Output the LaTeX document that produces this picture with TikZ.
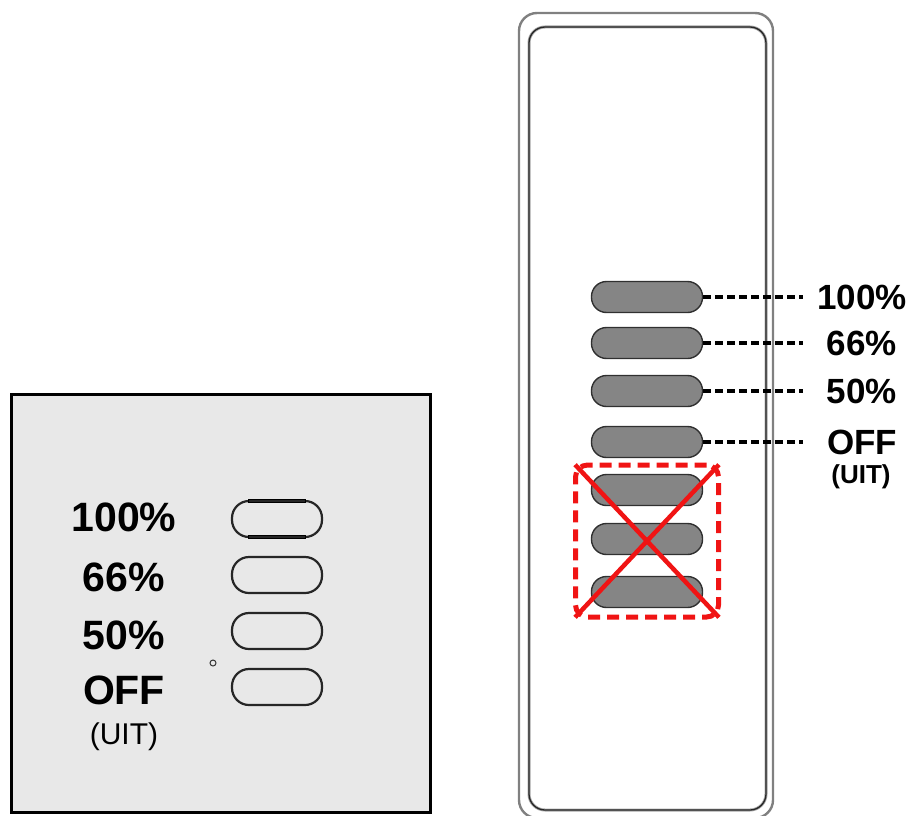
\documentclass[tikz,border=0pt]{standalone}
\usepackage{fontspec}
\setmainfont{Liberation Sans}
\usetikzlibrary{positioning}
\definecolor{plategrey}{HTML}{E8E8E8}
\definecolor{keygrey}{HTML}{858585}
\definecolor{keyedge}{HTML}{303030}
\definecolor{crossred}{HTML}{F01414}
\definecolor{rimgrey}{HTML}{808080}

\begin{document}
\begin{tikzpicture}[
  x=1pt, y=-1pt,
  plainkey/.style={draw=black!85, line width=2.2pt, rounded corners=17pt,
                   minimum width=90pt, minimum height=36pt, inner sep=0pt},
  greykey/.style={draw=keyedge, fill=keygrey, line width=1.4pt, rounded corners=15pt,
                  minimum width=111pt, minimum height=31pt, inner sep=0pt},
  biglbl/.style={font=\fontsize{41}{41}\selectfont\bfseries, inner sep=0pt},
  lbl/.style={font=\fontsize{35}{35}\selectfont\bfseries, inner sep=0pt},
  leader/.style={dash pattern=on 8pt off 4pt, line width=3.2pt},
]
\useasboundingbox (0,0) rectangle (915,816);

% ---------------- old plate (left) ----------------------------------
\draw[fill=plategrey, line width=3pt] (11,394) rectangle (430,812);

\foreach \n/\y/\t in {1/517/100\%, 2/577/66\%, 3/635/50\%, 4/690/OFF}
  \node[biglbl] (o\n) at (124,\y) {\t};
\node[font=\fontsize{30}{30}\selectfont, inner sep=0pt] (o5) at (124,737) {(UIT)};

\foreach \n/\y in {1/519, 2/575, 3/631, 4/687}
  \node[plainkey] (p\n) at (277,\y) {};

\draw[line width=1pt] ([xshift=-29pt]p1.north) rectangle ([xshift=28pt,yshift=-3pt]p1.north);
\draw[line width=1pt] ([xshift=-29pt]p1.south) rectangle ([xshift=28pt,yshift=3pt]p1.south);

\node[circle, draw=black!80, line width=1pt, inner sep=0pt, minimum size=6pt] (dot) at (213,663) {};

% ---------------- new unit (right) ----------------------------------
\draw[rimgrey, line width=2.4pt, rounded corners=18pt] (519,13) rectangle (773,818);
\draw[rimgrey!70, line width=3pt, rounded corners=16pt] (529,27) rectangle (766,810);
\draw[black!85, line width=1.3pt, rounded corners=16pt] (529,27) rectangle (766,810);

\foreach \n/\y/\t in {1/297/100\%, 2/343/66\%, 3/391/50\%, 4/442/OFF} {
  \node[greykey] (k\n) at (647,\y) {};
  \node[lbl] (t\n) at (862,\y) {\t};
  \coordinate (e\n) at (803,\y);
  \draw[leader] (k\n.east) -- (e\n);
}
\node[font=\fontsize{26}{26}\selectfont\bfseries, inner sep=0pt] (t5) at (861,477) {(UIT)};

\foreach \n/\y in {5/490, 6/539, 7/592}
  \node[greykey] (k\n) at (647,\y) {};

% ---------------- struck out keys -----------------------------------
\node[draw=crossred, line width=5pt, dash pattern=on 12pt off 7pt,
      rounded corners=12pt, minimum width=143pt, minimum height=152pt] (xbox) at (647,541) {};
\draw[crossred, line width=4.5pt, shorten <=3pt, shorten >=3pt] (xbox.north west) -- (xbox.south east);
\draw[crossred, line width=4.5pt, shorten <=3pt, shorten >=3pt] (xbox.north east) -- (xbox.south west);

\end{tikzpicture}
\end{document}
